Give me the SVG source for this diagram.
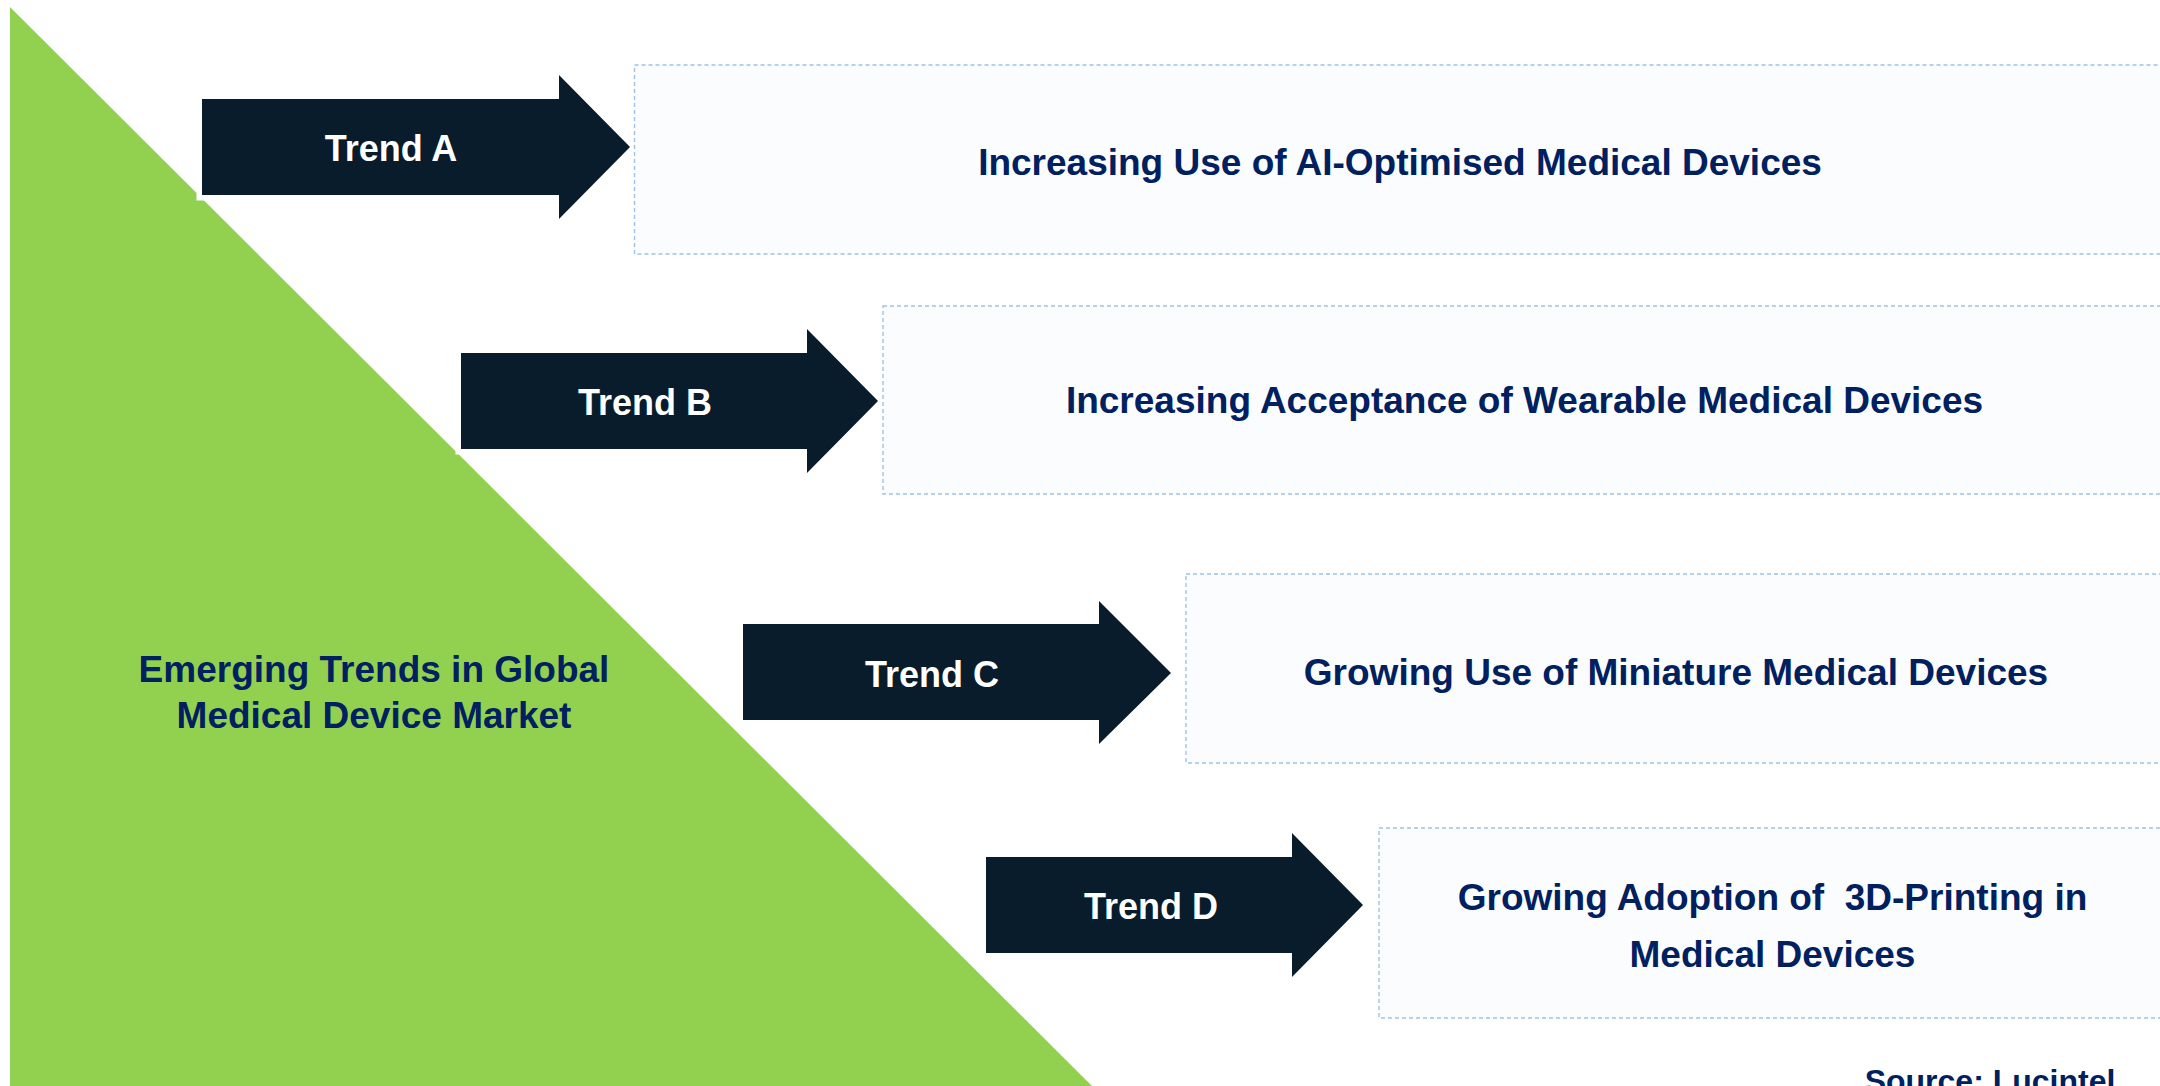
<svg xmlns="http://www.w3.org/2000/svg" width="2160" height="1086" viewBox="0 0 2160 1086">
<style>
.arrow{fill:#081C2B;stroke:#FFFFFF;stroke-width:11;stroke-linejoin:miter;paint-order:stroke}
.box{fill:#FAFCFE;stroke:#9DC3E6;stroke-width:1.4;stroke-dasharray:4 3}
.lbl{font-family:"Liberation Sans",Arial,sans-serif;font-weight:bold;font-size:36px;fill:#FFFFFF;text-anchor:middle}
.txt{font-family:"Liberation Sans",Arial,sans-serif;font-weight:bold;font-size:37px;fill:#002060;text-anchor:middle;white-space:pre}
.src{font-family:"Liberation Sans",Arial,sans-serif;font-weight:bold;font-size:32px;fill:#002060;text-anchor:middle}
</style>
<rect x="0" y="0" width="2160" height="1086" fill="#FFFFFF"/>
<g id="market">
<polygon points="10,7 10,1090 1096,1090" fill="#92D050"/>
<text class="txt" x="374" y="682">Emerging Trends in Global</text>
<text class="txt" x="374" y="728">Medical Device Market</text>
</g>
<g id="connectors">
<path id="arrow-a" class="arrow" d="M202,99 H559 V75 L630,147 L559,219 V195 H202 Z"/>
<path id="arrow-b" class="arrow" d="M461,353 H807 V329 L878,401 L807,473 V449 H461 Z"/>
<path id="arrow-c" class="arrow" d="M743,624 H1099 V601 L1171,673 L1099,744 V720 H743 Z"/>
<path id="arrow-d" class="arrow" d="M986,857 H1292 V833 L1363,905 L1292,977 V953 H986 Z"/>
<text class="lbl" x="391" y="161">Trend A</text>
<text class="lbl" x="645" y="415">Trend B</text>
<text class="lbl" x="932" y="687">Trend C</text>
<text class="lbl" x="1151" y="919">Trend D</text>
</g>
<g id="trend-a">
<rect class="box" x="634.5" y="65" width="1540" height="189"/>
<text class="txt" x="1400" y="175">Increasing Use of AI-Optimised Medical Devices</text>
</g>
<g id="trend-b">
<rect class="box" x="883" y="306" width="1290" height="188"/>
<text class="txt" x="1524.5" y="413">Increasing Acceptance of Wearable Medical Devices</text>
</g>
<g id="trend-c">
<rect class="box" x="1186" y="574" width="990" height="189"/>
<text class="txt" x="1676" y="685">Growing Use of Miniature Medical Devices</text>
</g>
<g id="trend-d">
<rect class="box" x="1379" y="828" width="790" height="190"/>
<text class="txt" x="1772.5" y="910" xml:space="preserve">Growing Adoption of  3D-Printing in</text>
<text class="txt" x="1772.5" y="967">Medical Devices</text>
</g>
<g id="source">
<text class="src" x="1990" y="1092">Source: Lucintel</text>
</g>
</svg>
